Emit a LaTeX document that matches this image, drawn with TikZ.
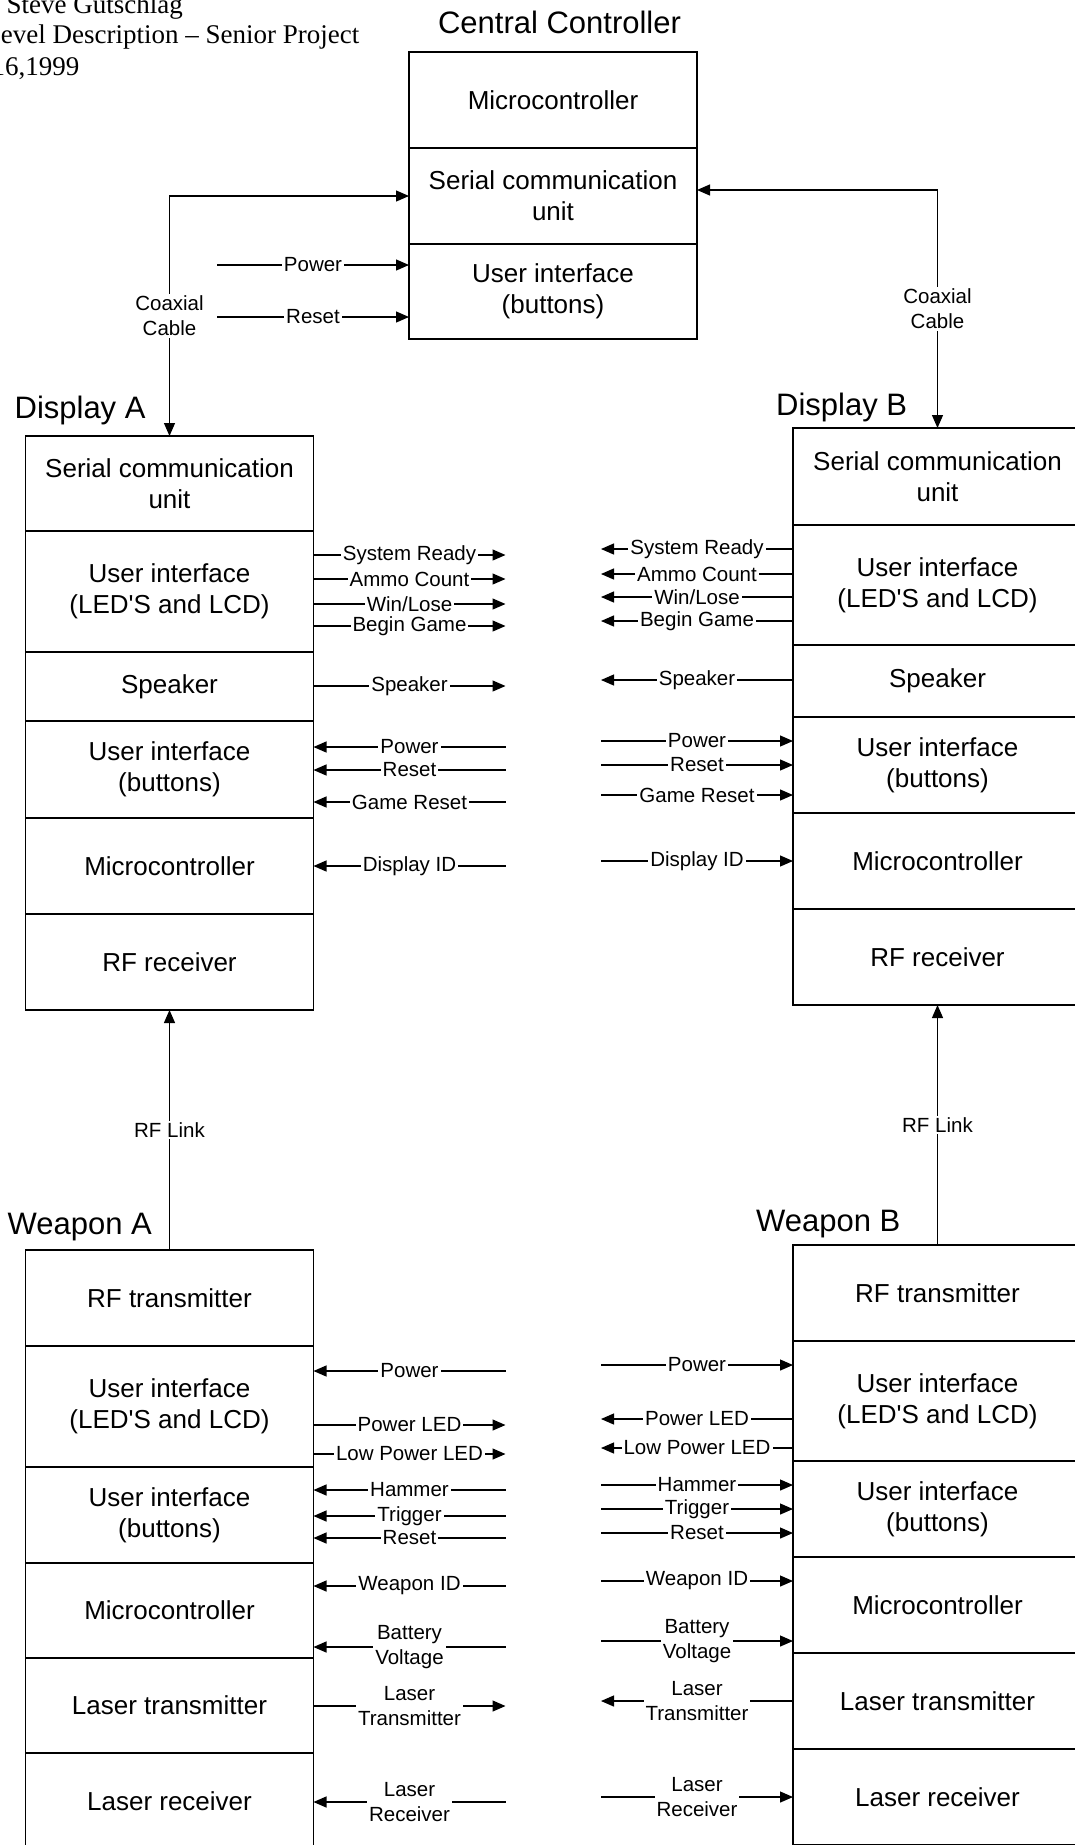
\documentclass[tikz,border=0pt]{standalone}
\usepackage{fontspec}
\setmainfont{Liberation Sans}
\newfontfamily\headfont{Liberation Serif}
\usetikzlibrary{positioning,arrows.meta}

\begin{document}
\begin{tikzpicture}[x=1pt, y=-1pt, line width=1.25pt,
        >={Triangle[length=13pt,width=11pt]},
        part/.style={draw, line width=1.6pt, minimum width=288pt, outer sep=0pt,
            inner sep=0pt, align=center, font=\fontsize{26}{31}\selectfont},
        sig/.style={fill=white, inner sep=2pt, align=center,
            font=\fontsize{20.5}{25}\selectfont},
        ttl/.style={anchor=base west, inner sep=0pt, font=\fontsize{31}{37}\selectfont}]
    \useasboundingbox (0,0) rectangle (1075,1845);

    % header
    \node[anchor=base west, inner sep=0pt, font=\headfont\fontsize{27}{32}\selectfont] (hdrname) at (6,13) {Steve Gutschlag};
    \node[anchor=base east, inner sep=0pt, font=\headfont\fontsize{27}{32}\selectfont] (hdrdesc) at (360,43) {evel Description – Senior Project};
    \node[anchor=base east, inner sep=0pt, font=\headfont\fontsize{27}{32}\selectfont] (hdrdate) at (80,75) {16,1999};

    % central controller
    \node[ttl, anchor=base] (cctitle) at (559.5,33) {Central Controller};
    \node[part, minimum height=96pt] (ccmc) at (553,100) {Microcontroller};
    \node[part, minimum height=96pt, below=0pt of ccmc] (ccser) {Serial communication\\unit};
    \node[part, minimum height=95pt, below=0pt of ccser] (ccui) {User interface\\(buttons)};

    % display A
    \node[ttl] (dAtitle) at (14,418) {Display A};
    \node[part, minimum height=95pt] (dAser) at (169.5,483.5) {Serial communication\\unit};
    \node[part, minimum height=121pt, below=0pt of dAser] (dAled) {User interface\\(LED\textquotesingle S and LCD)};
    \node[part, minimum height=69pt, below=0pt of dAled] (dAspk) {Speaker};
    \node[part, minimum height=97pt, below=0pt of dAspk] (dAbtn) {User interface\\(buttons)};
    \node[part, minimum height=96pt, below=0pt of dAbtn] (dAmc) {Microcontroller};
    \node[part, minimum height=96pt, below=0pt of dAmc] (dArf) {RF receiver};

    % display B
    \node[ttl] (dBtitle) at (775.5,415.5) {Display B};
    \node[part, minimum width=289pt, minimum height=97pt] (dBser) at (937.5,476.5) {Serial communication\\unit};
    \node[part, minimum width=289pt, minimum height=120pt, below=0pt of dBser] (dBled) {User interface\\(LED\textquotesingle S and LCD)};
    \node[part, minimum width=289pt, minimum height=72pt, below=0pt of dBled] (dBspk) {Speaker};
    \node[part, minimum width=289pt, minimum height=96pt, below=0pt of dBspk] (dBbtn) {User interface\\(buttons)};
    \node[part, minimum width=289pt, minimum height=96pt, below=0pt of dBbtn] (dBmc) {Microcontroller};
    \node[part, minimum width=289pt, minimum height=96pt, below=0pt of dBmc] (dBrf) {RF receiver};

    % weapon A
    \node[ttl] (wAtitle) at (7,1234) {Weapon A};
    \node[part, minimum height=96pt] (wAtx) at (169.5,1298) {RF transmitter};
    \node[part, minimum height=121pt, below=0pt of wAtx] (wAled) {User interface\\(LED\textquotesingle S and LCD)};
    \node[part, minimum height=96pt, below=0pt of wAled] (wAbtn) {User interface\\(buttons)};
    \node[part, minimum height=95pt, below=0pt of wAbtn] (wAmc) {Microcontroller};
    \node[part, minimum height=95pt, below=0pt of wAmc] (wAltx) {Laser transmitter};
    \node[part, minimum height=96pt, below=0pt of wAltx] (wArx) {Laser receiver};

    % weapon B
    \node[ttl] (wBtitle) at (755.5,1231.5) {Weapon B};
    \node[part, minimum width=289pt, minimum height=96pt] (wBtx) at (937.5,1293) {RF transmitter};
    \node[part, minimum width=289pt, minimum height=120pt, below=0pt of wBtx] (wBled) {User interface\\(LED\textquotesingle S and LCD)};
    \node[part, minimum width=289pt, minimum height=96pt, below=0pt of wBled] (wBbtn) {User interface\\(buttons)};
    \node[part, minimum width=289pt, minimum height=96pt, below=0pt of wBbtn] (wBmc) {Microcontroller};
    \node[part, minimum width=289pt, minimum height=96pt, below=0pt of wBmc] (wBltx) {Laser transmitter};
    \node[part, minimum width=289pt, minimum height=96pt, below=0pt of wBltx] (wBrx) {Laser receiver};

    % cables and links
    \draw[<->] (ccser.west) -| node[sig, pos=0.75] {Coaxial\\Cable} (dAser.north);
    \draw[<->] ([yshift=6pt]ccser.east) -| node[sig, pos=0.75] {Coaxial\\Cable} (dBser.north);
    \draw[->] (wAtx.north) -- node[sig] {RF Link} (dArf.south);
    \draw[->] (wBtx.north) -- node[sig] {RF Link} (dBrf.south);

    % signals
    \foreach \yy/\txt in {265/Power,317/Reset}
        \draw[<-] (ccui.west |- 0,\yy) -- node[sig] {\txt} ++(-192,0);

    \foreach \yy/\txt in {555/System Ready,579/Ammo Count,604/{Win/Lose},626/Begin Game,686/Speaker}
        \draw[->] (dAled.east |- 0,\yy) -- node[sig] {\txt} ++(192,0);
    \foreach \yy/\txt in {747/Power,770/Reset,802/Game Reset,866/Display ID}
        \draw[<-] (dAbtn.east |- 0,\yy) -- node[sig] {\txt} ++(192,0);

    \foreach \yy/\txt in {549/System Ready,574/Ammo Count,597/{Win/Lose},621/Begin Game,680/Speaker}
        \draw[->] (dBled.west |- 0,\yy) -- node[sig] {\txt} ++(-192,0);
    \foreach \yy/\txt in {741/Power,765/Reset,795/Game Reset,861/Display ID}
        \draw[<-] (dBbtn.west |- 0,\yy) -- node[sig] {\txt} ++(-192,0);

    \foreach \yy/\txt in {1425/Power LED,1454/Low Power LED,1706/{Laser\\Transmitter}}
        \draw[->] (wAled.east |- 0,\yy) -- node[sig] {\txt} ++(192,0);
    \foreach \yy/\txt in {1371/Power,1490/Hammer,1516/Trigger,1538/Reset,1586/Weapon ID,1647/{Battery\\Voltage},1802/{Laser\\Receiver}}
        \draw[<-] (wAled.east |- 0,\yy) -- node[sig] {\txt} ++(192,0);

    \foreach \yy/\txt in {1419/Power LED,1448/Low Power LED,1701/{Laser\\Transmitter}}
        \draw[->] (wBled.west |- 0,\yy) -- node[sig] {\txt} ++(-192,0);
    \foreach \yy/\txt in {1365/Power,1485/Hammer,1509/Trigger,1533/Reset,1581/Weapon ID,1641/{Battery\\Voltage},1797/{Laser\\Receiver}}
        \draw[<-] (wBled.west |- 0,\yy) -- node[sig] {\txt} ++(-192,0);
\end{tikzpicture}
\end{document}
